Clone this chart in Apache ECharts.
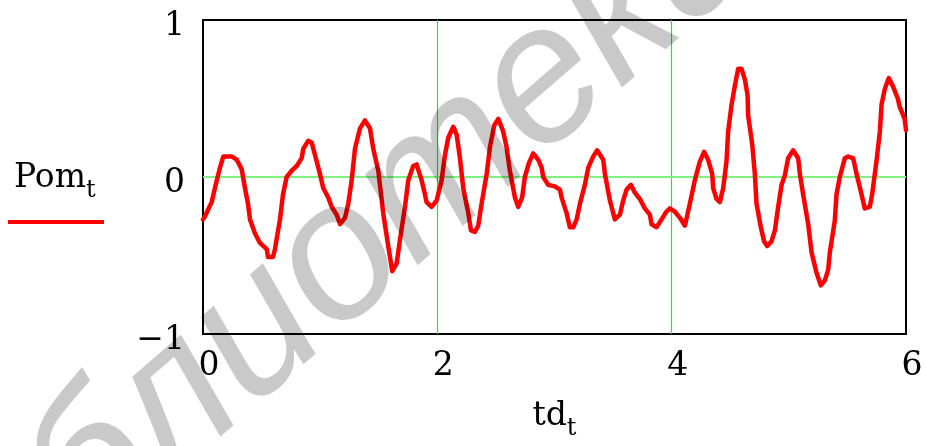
<!DOCTYPE html>
<html>
<head>
<meta charset="utf-8">
<script src="https://cdn.jsdelivr.net/npm/echarts@6/dist/echarts.min.js"></script>
<style>
  html, body { margin: 0; padding: 0; background: #fff; }
  #chart { width: 926px; height: 446px; }
</style>
</head>
<body>
<div id="chart"></div>
<script>
// Time samples td_t and the signal Pom_t
const tdValues = [
  0.000, 0.017, 0.074, 0.102, 0.145, 0.173, 0.247, 0.288, 0.330, 0.358,
  0.384, 0.401, 0.444, 0.486, 0.544, 0.555, 0.597, 0.614, 0.657, 0.683,
  0.714, 0.757, 0.800, 0.842, 0.856, 0.898, 0.927, 0.956, 0.998, 1.026,
  1.069, 1.098, 1.141, 1.169, 1.212, 1.240, 1.269, 1.297, 1.340, 1.382,
  1.425, 1.453, 1.496, 1.538, 1.581, 1.615, 1.653, 1.681, 1.724, 1.752,
  1.794, 1.823, 1.866, 1.894, 1.908, 1.951, 1.994, 2.037, 2.065, 2.093,
  2.136, 2.165, 2.193, 2.221, 2.264, 2.287, 2.321, 2.349, 2.378, 2.421,
  2.449, 2.486, 2.520, 2.562, 2.591, 2.619, 2.662, 2.690, 2.724, 2.747,
  2.782, 2.818, 2.861, 2.890, 2.904, 2.946, 3.003, 3.046, 3.060, 3.103,
  3.131, 3.160, 3.189, 3.217, 3.259, 3.288, 3.330, 3.364, 3.416, 3.430,
  3.473, 3.515, 3.558, 3.586, 3.615, 3.652, 3.686, 3.729, 3.771, 3.814,
  3.828, 3.871, 3.914, 3.956, 3.985, 4.027, 4.070, 4.113, 4.155, 4.198,
  4.241, 4.277, 4.311, 4.346, 4.354, 4.383, 4.411, 4.440, 4.468, 4.482,
  4.511, 4.539, 4.568, 4.596, 4.625, 4.648, 4.653, 4.687, 4.710, 4.724,
  4.761, 4.789, 4.815, 4.852, 4.881, 4.909, 4.938, 4.966, 4.994, 5.037,
  5.080, 5.094, 5.122, 5.165, 5.194, 5.236, 5.273, 5.307, 5.336, 5.350,
  5.392, 5.407, 5.435, 5.478, 5.506, 5.549, 5.578, 5.620, 5.648, 5.691,
  5.711, 5.748, 5.777, 5.791, 5.819, 5.853, 5.887, 5.930, 5.945, 5.988,
  6.000
];
const pomValues = [
  -0.27, -0.25, -0.16, -0.07, 0.06, 0.13, 0.13, 0.11, 0.05, -0.07,
  -0.17, -0.27, -0.36, -0.42, -0.46, -0.51, -0.51, -0.46, -0.27, -0.11,
  0.00, 0.04, 0.07, 0.12, 0.18, 0.23, 0.22, 0.14, 0.02, -0.07,
  -0.13, -0.19, -0.24, -0.30, -0.26, -0.17, -0.02, 0.18, 0.31, 0.36,
  0.31, 0.18, 0.04, -0.23, -0.44, -0.60, -0.55, -0.40, -0.19, -0.02,
  0.07, 0.08, -0.02, -0.11, -0.16, -0.19, -0.15, -0.02, 0.14, 0.25,
  0.32, 0.27, 0.12, -0.07, -0.23, -0.34, -0.35, -0.31, -0.17, 0.02,
  0.19, 0.33, 0.37, 0.29, 0.19, 0.04, -0.13, -0.19, -0.13, 0.00,
  0.09, 0.15, 0.11, 0.06, 0.00, -0.05, -0.06, -0.08, -0.13, -0.23,
  -0.32, -0.32, -0.27, -0.17, -0.05, 0.06, 0.13, 0.17, 0.11, 0.02,
  -0.15, -0.27, -0.24, -0.15, -0.08, -0.05, -0.10, -0.14, -0.20, -0.24,
  -0.30, -0.32, -0.27, -0.22, -0.20, -0.22, -0.26, -0.31, -0.17, -0.02,
  0.10, 0.16, 0.11, 0.02, -0.07, -0.14, -0.16, -0.07, 0.10, 0.29,
  0.46, 0.58, 0.69, 0.69, 0.62, 0.52, 0.39, 0.21, 0.02, -0.17,
  -0.32, -0.41, -0.44, -0.41, -0.34, -0.19, -0.05, 0.01, 0.12, 0.17,
  0.12, 0.02, -0.11, -0.30, -0.48, -0.61, -0.69, -0.66, -0.59, -0.48,
  -0.28, -0.11, 0.00, 0.12, 0.13, 0.12, 0.02, -0.11, -0.20, -0.19,
  -0.11, 0.10, 0.29, 0.46, 0.56, 0.63, 0.58, 0.50, 0.45, 0.37,
  0.30
];
const xTicks = [0, 2, 4, 6];
const yTicks = [-1, 0, 1];
const gridX = [2, 4];
const gridY = [0];
const watermarkText = 'библиотека';

const serif = 'DejaVu Serif';
const points = tdValues.map((t, i) => [t, pomValues[i]]);
const fmtNum = v => (v < 0 ? '\u2212' + Math.abs(v) : String(v));

const chart = echarts.init(document.getElementById('chart'), null, { renderer: 'canvas' });

chart.setOption({
  animation: false,
  backgroundColor: '#fff',
  grid: { left: 203, right: 20, top: 20, bottom: 107, show: true, borderColor: '#000', borderWidth: 2, backgroundColor: 'transparent' },
  xAxis: {
    type: 'value', min: xTicks[0], max: xTicks[xTicks.length - 1], interval: 2,
    axisLine: { show: false },
    axisTick: { show: false },
    splitLine: { show: false },
    axisLabel: {
      show: true, margin: 16, color: '#000', fontFamily: serif, fontSize: 33,
      padding: [0, 0, 0, 12], formatter: fmtNum
    },
    name: '{m|td}{s|t}',
    nameLocation: 'middle',
    nameGap: 66,
    nameTextStyle: {
      rich: {
        m: { fontFamily: serif, fontSize: 33, color: '#000', verticalAlign: 'bottom' },
        s: { fontFamily: serif, fontSize: 24, color: '#000', verticalAlign: 'bottom', padding: [0, 0, -8, 0] }
      }
    }
  },
  yAxis: {
    type: 'value', min: yTicks[0], max: yTicks[yTicks.length - 1], interval: 1,
    axisLine: { show: false },
    axisTick: { show: false },
    splitLine: { show: false },
    axisLabel: {
      show: true, margin: 18, color: '#000', fontFamily: serif, fontSize: 33,
      verticalAlign: 'top', lineHeight: 12, formatter: fmtNum
    }
  },
  series: [
    {
      type: 'line',
      data: points,
      symbol: 'none',
      lineStyle: { color: '#ff0000', width: 4.5, join: 'round', cap: 'round' },
      z: 3,
      markLine: {
        silent: true,
        symbol: 'none',
        label: { show: false },
        animation: false,
        z: 1,
        data: gridX.map(v => ({ xAxis: v, lineStyle: { color: '#00ff00', width: 1.2, type: 'solid', opacity: 1 } }))
          .concat(gridY.map(v => ({ yAxis: v, lineStyle: { color: '#80f080', width: 2, type: 'solid', opacity: 1 } })))
      }
    }
  ],
  graphic: [
    {
      type: 'text', left: 14, top: 162, z: 10,
      style: {
        text: '{m|Pom}{s|t}',
        rich: {
          m: { fontFamily: serif, fontSize: 33, fill: '#000', verticalAlign: 'bottom' },
          s: { fontFamily: serif, fontSize: 24, fill: '#000', verticalAlign: 'bottom', padding: [0, 0, -8, 0] }
        }
      }
    },
    {
      type: 'line', z: 10,
      shape: { x1: 8, y1: 222, x2: 104, y2: 222 },
      style: { stroke: '#ff0000', lineWidth: 4 }
    },
    {
      type: 'text', z: 100, silent: true,
      x: 312, y: 285, rotation: 41 * Math.PI / 180,
      style: {
        text: watermarkText,
        font: "italic 195px 'Liberation Sans', Arial, sans-serif",
        fill: 'rgba(0,0,0,0.21)',
        align: 'center', verticalAlign: 'middle'
      }
    }
  ]
});
</script>
</body>
</html>
